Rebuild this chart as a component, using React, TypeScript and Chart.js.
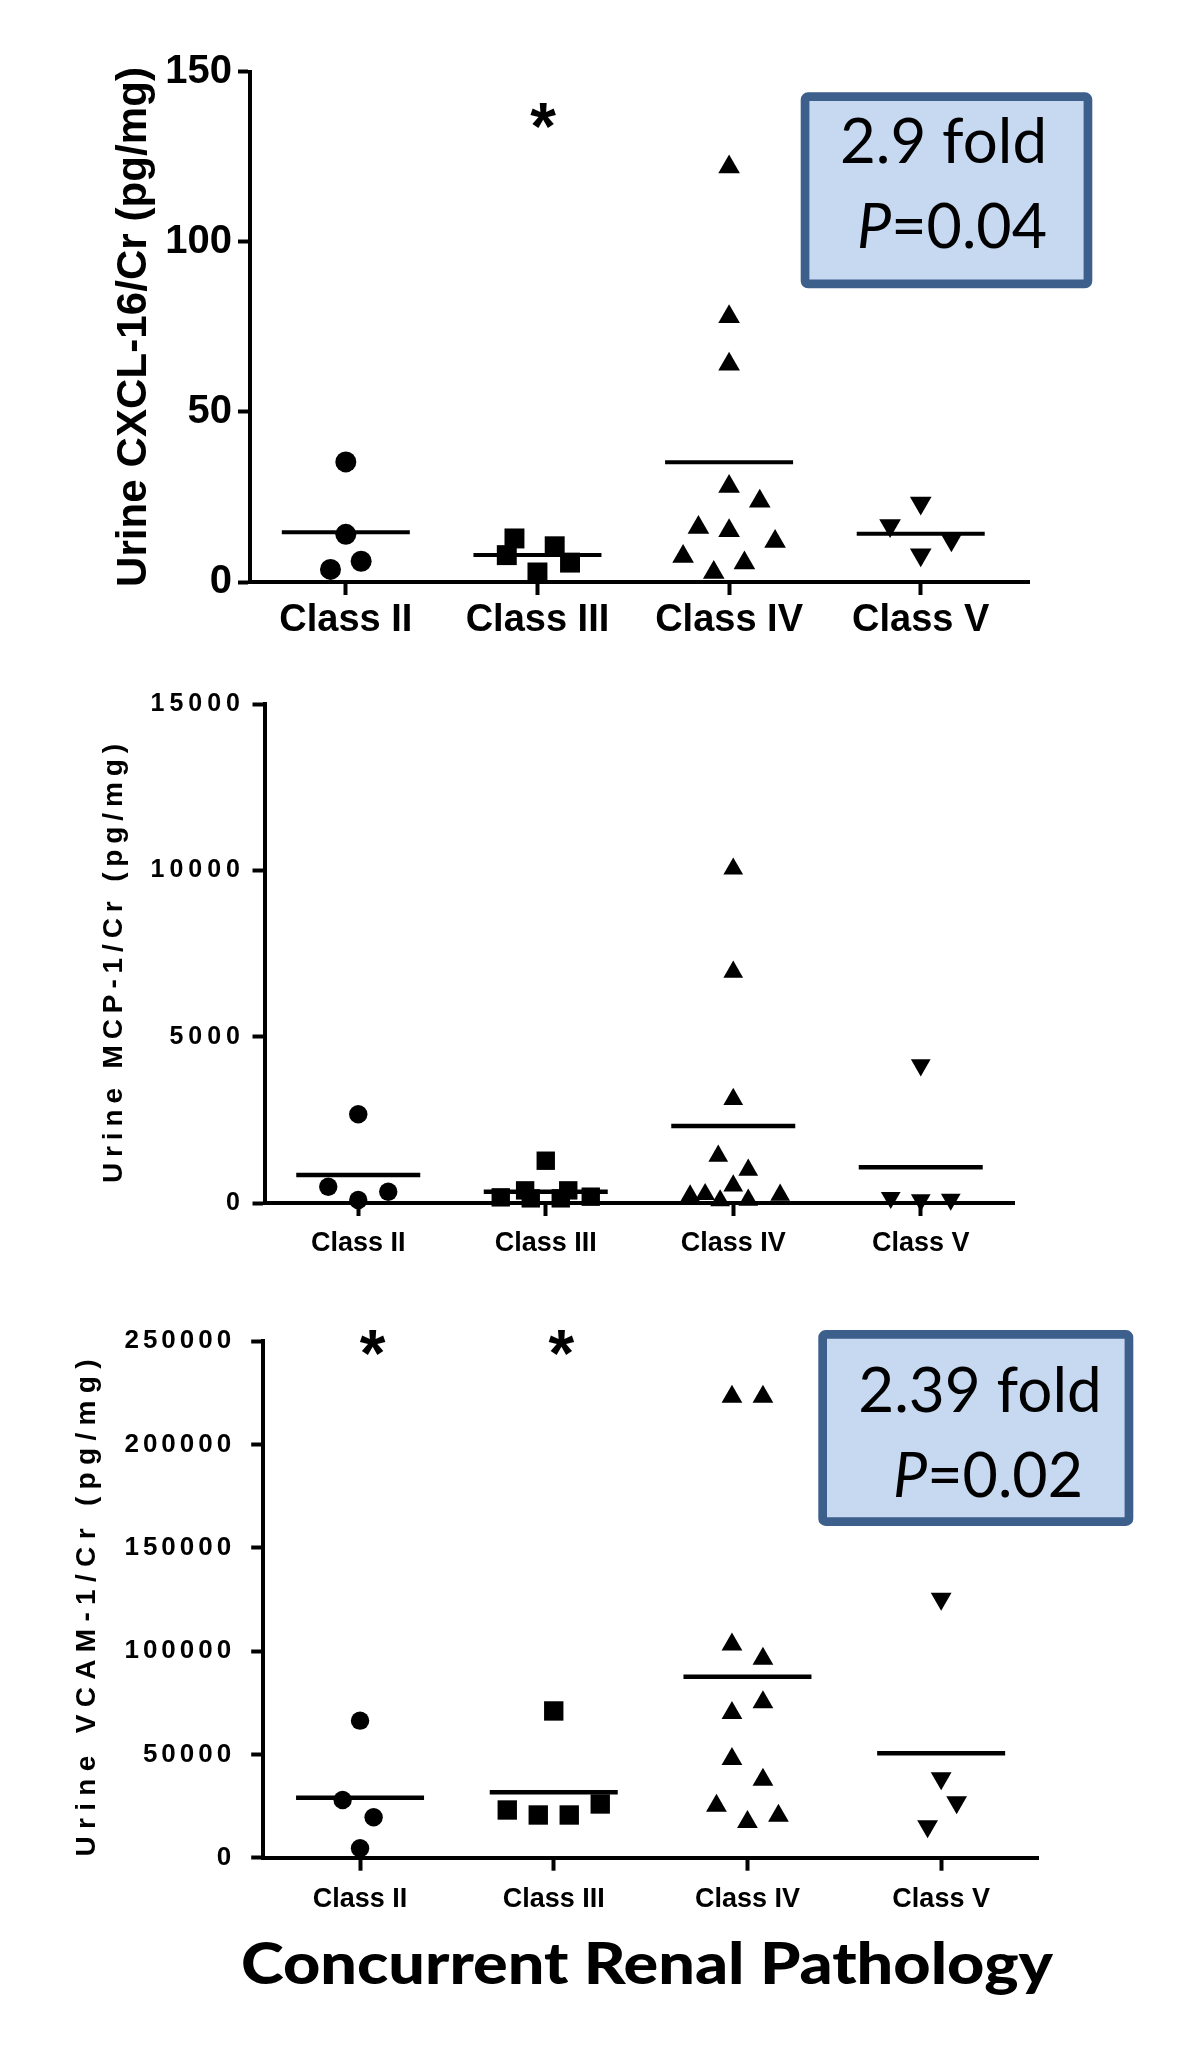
import { useEffect, useRef } from "react";
import { Chart, registerables } from "chart.js";

Chart.register(...registerables);

// ---------------- data ----------------
const categories = ["Class II", "Class III", "Class IV", "Class V"];

// Panel A: Urine CXCL-16/Cr (pg/mg)
const cxclYTicks = [0, 50, 100, 150];
const cxclClassII = [35.3, 14.0, 6.1, 3.7];
const cxclClassIIJitter = [0, 0, 0.08, -0.08];
const cxclClassIII = [12.8, 7.9, 10.5, 2.8, 5.7];
const cxclClassIIIJitter = [-0.12, -0.16, 0.09, 0, 0.17];
const cxclClassIV = [122, 78, 64, 28.1, 23.7, 16.0, 15.1, 11.9, 7.5, 5.6, 2.8];
const cxclClassIVJitter = [0, 0, 0, 0, 0.16, -0.16, 0, 0.24, -0.24, 0.08, -0.08];
const cxclClassV = [23.2, 16.6, 12.4, 8.0];
const cxclClassVJitter = [0, -0.16, 0.16, 0];
const cxclMeans = [14.6, 7.9, 35.2, 14.2];
const cxclStarX = [2.03];
const cxclStarY = [137];
const cxclFold = "2.9 fold";
const cxclP = "=0.04";

// Panel B: Urine MCP-1/Cr (pg/mg)
const mcpYTicks = [0, 5000, 10000, 15000];
const mcpClassII = [2670, 490, 340, 90];
const mcpClassIIJitter = [0, -0.16, 0.16, 0];
const mcpClassIII = [1272, 380, 380, 170, 140, 140, 190];
const mcpClassIIIJitter = [0, -0.11, 0.12, -0.24, -0.08, 0.08, 0.24];
const mcpClassIV = [10050, 6950, 3120, 1414, 992, 520, 220, 260, 70, 90, 240];
const mcpClassIVJitter = [0, 0, 0, -0.08, 0.08, 0, -0.23, -0.15, -0.07, 0.08, 0.25];
const mcpClassV = [4150, 160, 90, 110];
const mcpClassVJitter = [0, -0.16, 0, 0.16];
const mcpMeans = [842, 340, 2316, 1074];

// Panel C: Urine VCAM-1/Cr (pg/mg)
const vcamYTicks = [0, 50000, 100000, 150000, 200000, 250000];
const vcamClassII = [66300, 27900, 19550, 4550];
const vcamClassIIJitter = [0, -0.09, 0.07, 0];
const vcamClassIII = [71000, 23080, 20660, 20660, 25990];
const vcamClassIIIJitter = [0, -0.24, -0.08, 0.08, 0.24];
const vcamClassIV = [223000, 223000, 103100, 96300, 75200, 70000, 47760, 37750, 25160, 17270, 20320];
const vcamClassIVJitter = [-0.08, 0.08, -0.08, 0.08, 0.08, -0.08, -0.08, 0.08, -0.16, 0, 0.16];
const vcamClassV = [125300, 38400, 26800, 15200];
const vcamClassVJitter = [0, 0, 0.08, -0.07];
const vcamMeans = [29000, 31650, 87600, 50500];
const vcamStarX = [1.066, 2.04];
const vcamStarY = [249500, 249500];
const vcamFold = "2.39 fold";
const vcamP = "=0.02";

const xAxisTitle = "Concurrent Renal Pathology";

// ---------------- layout / style ----------------
const SANS = "'Liberation Sans', Arial, Helvetica, sans-serif";
const NARROW = "'Liberation Sans Narrow', 'Arial Narrow', 'Liberation Sans', Arial, sans-serif";
const BOX_FILL = "#c6d9f1";
const BOX_LINE = "#3c5f8c";

const panels: any[] = [
  {
    key: "cxcl",
    top: 0,
    height: 660,
    chartLeft: 250,
    chartRight: 1029,
    chartTop: 71.7,
    chartBottom: 582,
    xMax: 4.565,
    yMax: 150,
    yTicks: cxclYTicks,
    groups: [
      { values: cxclClassII, jitter: cxclClassIIJitter },
      { values: cxclClassIII, jitter: cxclClassIIIJitter },
      { values: cxclClassIV, jitter: cxclClassIVJitter },
      { values: cxclClassV, jitter: cxclClassVJitter },
    ],
    means: cxclMeans,
    radii: [10.5, 14.1, 12.5, 12.5],
    meanHalf: 64,
    meanWidth: 4,
    yTickFamily: NARROW,
    yTickFont: 40,
    yTickSpacing: 0,
    yTickPadding: 6,
    yTickLength: 12,
    xTickFont: 38,
    xTickPadding: 3,
    xTickLength: 13,
    yTitle: "Urine CXCL-16/Cr (pg/mg)",
    yTitleSize: 42,
    yTitleBaseX: 146,
    yTitleCenterY: 327,
    yTitleLength: 520,
    starX: cxclStarX,
    starY: cxclStarY,
    starSize: 66,
    box: {
      left: 800.7,
      top: 92.3,
      right: 1092.3,
      bottom: 288.3,
      fold: cxclFold,
      foldCx: 943.5,
      foldBase: 163.3,
      foldLen: 207,
      p: cxclP,
      pCx: 952,
      pBase: 248,
      pLen: 190,
    },
  },
  {
    key: "mcp",
    top: 660,
    height: 630,
    chartLeft: 264.5,
    chartRight: 1014.5,
    chartTop: 704.3,
    chartBottom: 1203,
    xMax: 4.5,
    yMax: 15000,
    yTicks: mcpYTicks,
    groups: [
      { values: mcpClassII, jitter: mcpClassIIJitter },
      { values: mcpClassIII, jitter: mcpClassIIIJitter },
      { values: mcpClassIV, jitter: mcpClassIVJitter },
      { values: mcpClassV, jitter: mcpClassVJitter },
    ],
    means: mcpMeans,
    radii: [9.2, 13, 11.4, 11.4],
    meanHalf: 62,
    meanWidth: 4.5,
    yTickFamily: SANS,
    yTickFont: 25,
    yTickSpacing: 5,
    yTickPadding: 7.5,
    yTickLength: 12,
    xTickFont: 27,
    xTickPadding: 11,
    xTickLength: 13,
    yTitle: "Urine MCP-1/Cr (pg/mg)",
    yTitleSize: 28,
    yTitleBaseX: 122,
    yTitleCenterY: 963.5,
    yTitleLength: 439,
    starX: [],
    starY: [],
    starSize: 66,
  },
  {
    key: "vcam",
    top: 1290,
    height: 776,
    chartLeft: 263.2,
    chartRight: 1038,
    chartTop: 1341,
    chartBottom: 1857.7,
    xMax: 4.5,
    yMax: 250000,
    yTicks: vcamYTicks,
    groups: [
      { values: vcamClassII, jitter: vcamClassIIJitter },
      { values: vcamClassIII, jitter: vcamClassIIIJitter },
      { values: vcamClassIV, jitter: vcamClassIVJitter },
      { values: vcamClassV, jitter: vcamClassVJitter },
    ],
    means: vcamMeans,
    radii: [9.2, 13.7, 12, 12],
    meanHalf: 64,
    meanWidth: 4.5,
    yTickFamily: SANS,
    yTickFont: 26,
    yTickSpacing: 4,
    yTickPadding: 16,
    yTickLength: 12,
    xTickFont: 27,
    xTickPadding: 13,
    xTickLength: 13,
    yTitle: "Urine VCAM-1/Cr (pg/mg)",
    yTitleSize: 28,
    yTitleBaseX: 95,
    yTitleCenterY: 1608,
    yTitleLength: 497,
    starX: vcamStarX,
    starY: vcamStarY,
    starSize: 66,
    box: {
      left: 818.3,
      top: 1330,
      right: 1133.3,
      bottom: 1526,
      fold: vcamFold,
      foldCx: 980,
      foldBase: 1411.7,
      foldLen: 243.7,
      p: vcamP,
      pCx: 988,
      pBase: 1497.3,
      pLen: 190,
    },
    xTitle: {
      text: xAxisTitle,
      cx: 647,
      base: 1984,
      len: 812,
      size: 57,
      weight: 900,
    },
  },
];

// ---------------- drawing helpers ----------------
function drawSpaced(ctx: any, text: string, font: string, cx: number, cy: number, length: number, vertical: boolean) {
  ctx.save();
  ctx.letterSpacing = "0px";
  ctx.font = font;
  ctx.fillStyle = "#000";
  ctx.textAlign = "left";
  ctx.textBaseline = "alphabetic";
  const chars = Array.from(text);
  const widths = chars.map((c) => ctx.measureText(c).width);
  const total = widths.reduce((a, b) => a + b, 0);
  let spacing = (length - total) / Math.max(1, chars.length - 1);
  let scale = 1;
  if (spacing < 0) {
    spacing = 0;
    scale = length / total;
  }
  ctx.translate(cx, cy);
  if (vertical) ctx.rotate(-Math.PI / 2);
  ctx.scale(scale, 1);
  const L = total + spacing * (chars.length - 1);
  let x = -L / 2;
  chars.forEach((c, i) => {
    ctx.fillText(c, x, 0);
    x += widths[i] + spacing;
  });
  ctx.restore();
}

function drawRuns(ctx: any, runs: { text: string; font: string }[], cx: number, base: number, length: number) {
  ctx.save();
  ctx.letterSpacing = "0px";
  ctx.fillStyle = "#000";
  ctx.textAlign = "left";
  ctx.textBaseline = "alphabetic";
  const widths = runs.map((r) => {
    ctx.font = r.font;
    return ctx.measureText(r.text).width;
  });
  const total = widths.reduce((a, b) => a + b, 0);
  const scale = length / total;
  ctx.translate(cx, base);
  ctx.scale(scale, 1);
  let x = -total / 2;
  runs.forEach((r, i) => {
    ctx.font = r.font;
    ctx.fillText(r.text, x, 0);
    x += widths[i];
  });
  ctx.restore();
}

function drawStar(ctx: any, px: number, py: number, size: number) {
  ctx.save();
  ctx.letterSpacing = "0px";
  ctx.font = `bold ${size}px ${SANS}`;
  ctx.fillStyle = "#000";
  ctx.textAlign = "left";
  ctx.textBaseline = "alphabetic";
  const m = ctx.measureText("*");
  const w = m.actualBoundingBoxLeft + m.actualBoundingBoxRight;
  const x = px - w / 2 + m.actualBoundingBoxLeft;
  const y = py + (m.actualBoundingBoxAscent - m.actualBoundingBoxDescent) / 2;
  ctx.fillText("*", x, y);
  ctx.restore();
}

function makeDecor(p: any) {
  return {
    id: "decor-" + p.key,
    beforeDraw(chart: any) {
      chart.ctx.letterSpacing = p.yTickSpacing + "px";
    },
    beforeDatasetsDraw(chart: any) {
      chart.ctx.letterSpacing = "0px";
    },
    afterDraw(chart: any) {
      const ctx = chart.ctx;
      ctx.letterSpacing = "0px";
      const off = p.top;
      drawSpaced(ctx, p.yTitle, `bold ${p.yTitleSize}px ${SANS}`, p.yTitleBaseX, p.yTitleCenterY - off, p.yTitleLength, true);

      const xs = chart.scales.x;
      const ys = chart.scales.y;
      p.starX.forEach((sx: number, i: number) => {
        drawStar(ctx, xs.getPixelForValue(sx), ys.getPixelForValue(p.starY[i]), p.starSize);
      });

      if (p.box) {
        const b = p.box;
        const bw = 8.7;
        ctx.save();
        ctx.beginPath();
        ctx.roundRect(b.left + bw / 2, b.top - off + bw / 2, b.right - b.left - bw, b.bottom - b.top - bw, 3);
        ctx.fillStyle = BOX_FILL;
        ctx.fill();
        ctx.lineWidth = bw;
        ctx.lineJoin = "round";
        ctx.strokeStyle = BOX_LINE;
        ctx.stroke();
        ctx.restore();
        drawRuns(ctx, [{ text: b.fold, font: "62px Lato, 'Open Sans', sans-serif" }], b.foldCx, b.foldBase - off, b.foldLen);
        drawRuns(
          ctx,
          [
            { text: "P", font: "italic 62px Lato, 'Open Sans', sans-serif" },
            { text: b.p, font: "62px Lato, 'Open Sans', sans-serif" },
          ],
          b.pCx,
          b.pBase - off,
          b.pLen
        );
      }

      if (p.xTitle) {
        const t = p.xTitle;
        drawRuns(ctx, [{ text: t.text, font: `${t.weight} ${t.size}px Lato, 'Open Sans', sans-serif` }], t.cx, t.base - off, t.len);
      }
    },
  };
}

function buildConfig(p: any) {
  const styles = ["circle", "rect", "triangle", "triangle"];
  const rotations = [0, 0, 0, 180];
  const datasets: any[] = [];
  datasets.push({
    label: "Mean",
    data: p.means.map((m: number, i: number) => ({ x: i + 1, y: m })),
    pointStyle: "line",
    pointRadius: p.meanHalf,
    pointHoverRadius: p.meanHalf,
    pointBorderWidth: p.meanWidth,
    pointHoverBorderWidth: p.meanWidth,
    pointBorderColor: "#000",
    pointBackgroundColor: "#000",
    showLine: false,
    clip: false,
  });
  p.groups.forEach((g: any, i: number) => {
    datasets.push({
      label: categories[i],
      data: g.values.map((v: number, j: number) => ({ x: i + 1 + g.jitter[j], y: v })),
      pointStyle: styles[i],
      pointRotation: rotations[i],
      pointRadius: p.radii[i],
      pointHoverRadius: p.radii[i],
      pointBackgroundColor: "#000",
      pointBorderColor: "#000",
      pointBorderWidth: 0,
      pointHoverBorderWidth: 0,
      showLine: false,
      clip: false,
    });
  });

  const localBottom = p.chartBottom - p.top;
  return {
    type: "scatter",
    data: { datasets },
    options: {
      responsive: false,
      maintainAspectRatio: false,
      animation: false,
      events: [],
      layout: {
        autoPadding: false,
        padding: { left: 0, top: p.chartTop - p.top, right: 1200 - p.chartRight, bottom: 0 },
      },
      plugins: { legend: { display: false }, tooltip: { enabled: false } },
      scales: {
        x: {
          type: "linear",
          min: 0.5,
          max: p.xMax,
          z: 1,
          afterBuildTicks: (s: any) => {
            s.ticks = categories.map((_, i) => ({ value: i + 1 }));
          },
          afterFit: (s: any) => {
            s.height = p.height - localBottom;
          },
          ticks: {
            z: 1,
            autoSkip: false,
            maxRotation: 0,
            minRotation: 0,
            color: "#000",
            padding: p.xTickPadding,
            font: { family: SANS, size: p.xTickFont, weight: "bold" },
            callback: (v: any) => categories[Math.round(Number(v)) - 1] ?? "",
          },
          grid: {
            display: true,
            drawOnChartArea: false,
            drawTicks: true,
            tickLength: p.xTickLength,
            tickWidth: 4,
            tickColor: "#000",
            z: 1,
          },
          border: { display: true, width: 4, color: "#000", z: 1 },
        },
        y: {
          type: "linear",
          min: 0,
          max: p.yMax,
          afterBuildTicks: (s: any) => {
            s.ticks = p.yTicks.map((v: number) => ({ value: v }));
          },
          afterFit: (s: any) => {
            s.width = p.chartLeft;
          },
          ticks: {
            autoSkip: false,
            color: "#000",
            padding: p.yTickPadding,
            font: { family: p.yTickFamily, size: p.yTickFont, weight: "bold" },
            callback: (v: any) => String(v),
          },
          grid: {
            display: true,
            drawOnChartArea: false,
            drawTicks: true,
            tickLength: p.yTickLength,
            tickWidth: 4,
            tickColor: "#000",
          },
          border: { display: true, width: 4, color: "#000" },
        },
      },
    },
    plugins: [makeDecor(p)],
  };
}

function Panel({ p }: { p: any }) {
  const ref = useRef<HTMLCanvasElement>(null);
  useEffect(() => {
    const canvas = ref.current;
    if (!canvas) return;
    const chart = new Chart(canvas, buildConfig(p) as any);
    return () => chart.destroy();
  }, [p]);
  return (
    <canvas
      ref={ref}
      width={1200}
      height={p.height}
      style={{ position: "absolute", left: 0, top: p.top, width: 1200, height: p.height, display: "block" }}
    />
  );
}

export default function App() {
  return (
    <div style={{ position: "absolute", left: 0, top: 0, width: 1200, height: 2066, background: "#fff" }}>
      {panels.map((p) => (
        <Panel key={p.key} p={p} />
      ))}
    </div>
  );
}
